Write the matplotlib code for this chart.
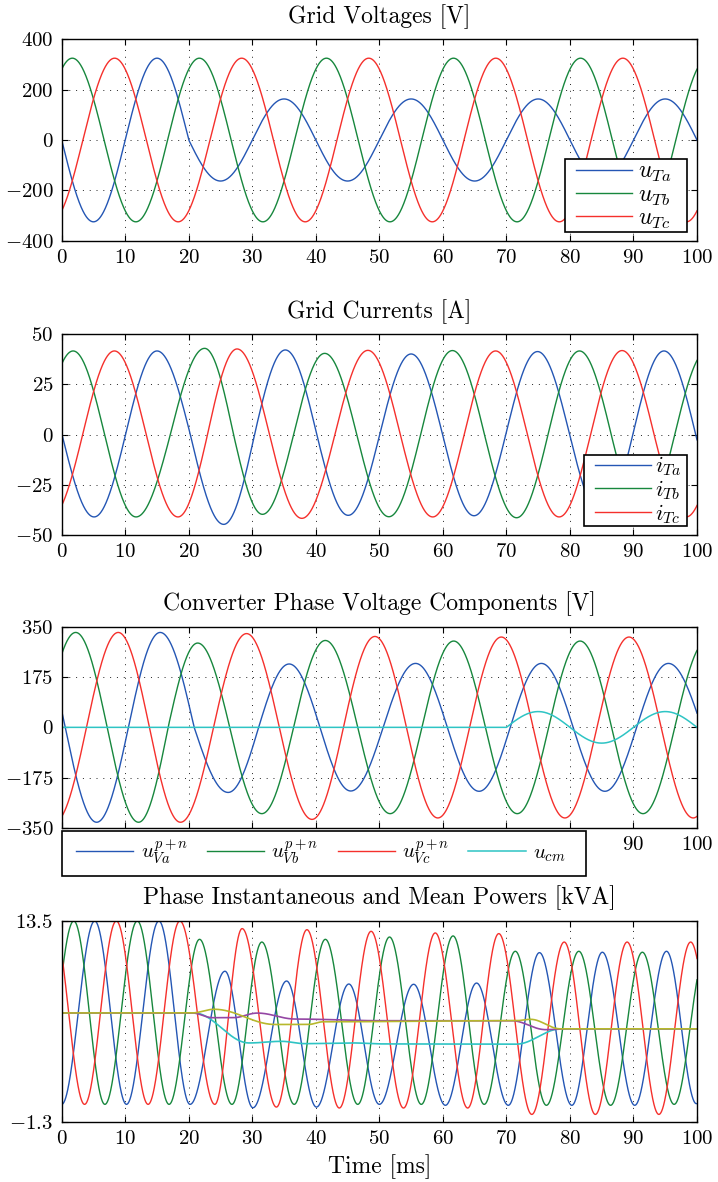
import numpy as np
import matplotlib
matplotlib.use("Agg")
import matplotlib.pyplot as plt
from matplotlib.patches import Rectangle
from matplotlib.ticker import FuncFormatter

plt.rcParams.update({
    "font.family": "serif",
    "font.serif": ["cmr10"],
    "mathtext.fontset": "cm",
    "axes.formatter.use_mathtext": True,
    "axes.linewidth": 1.0,
})

# ---------------------------------------------------------------------------
# Waveform extrema (time in ms, value) for every signal
# ---------------------------------------------------------------------------
# Grid voltages [V]
uTa_t = [-5, 5, 15, 25, 35, 45, 55, 65, 75, 85, 95, 105]
uTa_v = [325, -325, 325, -163, 163, -163, 163, -163, 163, -163, 163, -163]
uTb_t = [-8.33, 1.67, 11.67, 21.67, 31.67, 41.67, 51.67, 61.67, 71.67, 81.67, 91.67, 101.67]
uTb_v = [-325, 325, -325, 325, -325, 325, -325, 325, -325, 325, -325, 325]
uTc_t = [-1.67, 8.33, 18.33, 28.33, 38.33, 48.33, 58.33, 68.33, 78.33, 88.33, 98.33, 108.33]
uTc_v = [-325, 325, -325, 325, -325, 325, -325, 325, -325, 325, -325, 325]

# Grid currents [A]
iTa_t = [-5, 5.1, 15.0, 25.5, 35.2, 45.1, 55.0, 64.9, 74.9, 85.0, 94.8, 104.8]
iTa_v = [41, -41.0, 41.7, -44.7, 42.2, -40.2, 40.2, -40.4, 41.4, -40.8, 41.7, -41]
iTb_t = [-8.2, 1.8, 11.7, 22.5, 31.6, 41.4, 51.5, 61.5, 71.6, 81.5, 91.5, 101.5]
iTb_v = [-41, 41.7, -41.0, 43.0, -39.7, 40.5, -40.9, 41.9, -41.4, 41.7, -41.2, 41.5]
iTc_t = [-1.7, 8.3, 18.3, 27.6, 37.8, 48.2, 58.4, 68.3, 78.3, 88.2, 98.3, 108.3]
iTc_v = [-41, 41.7, -41.0, 42.7, -41.7, 42.0, -41.0, 41.7, -41.0, 41.9, -41.0, 41]

# Converter phase voltage components [V]
uVa_t = [-4.4, 5.5, 15.5, 26.2, 35.8, 45.5, 55.7, 65.7, 75.5, 85.5, 95.5, 106.0]
uVa_v = [331, -331, 331, -227, 221, -222, 223, -223, 223, -223, 223, -223]
uVb_t = [-7.8, 2.2, 12.1, 21.4, 31.5, 41.5, 51.7, 61.7, 71.7, 81.6, 91.5, 101.5]
uVb_v = [-331, 331, -331, 294, -301, 303, -301, 301, -301, 301, -301, 301]
uVc_t = [-1.1, 8.9, 18.7, 29.1, 39.4, 49.3, 59.2, 69.2, 79.2, 89.3, 99.4, 109.4]
uVc_v = [-331, 331, -331, 327, -321, 317, -316, 315, -316, 315, -316, 315]
ucm_on = 70.0
ucm_t = [65, 75, 85, 95, 105]
ucm_v = [-55, 55, -55, 55, -55]

# Phase instantaneous powers [kVA]
pa_t = [-5, 0, 5.2, 10.2, 15.3, 20.2, 25.7, 30.1, 35.4, 40.1, 45.2, 50.0,
        55.4, 60.4, 65.3, 70.3, 75.2, 80.3, 85.1, 90.2, 95.2, 99.9, 105]
pa_v = [13.5, 0, 13.5, 0, 13.5, 0, 9.8, -0.25, 9.08, -0.2, 8.86, 0,
        8.84, -0.07, 8.93, -0.07, 11.17, -0.07, 11.2, -0.07, 11.27, 0.05, 11.3]
pb_t = [-3.2, 1.9, 6.8, 11.9, 16.9, 21.7, 26.8, 31.5, 36.6, 41.5, 46.6,
        51.6, 56.6, 61.6, 66.5, 71.4, 76.3, 81.4, 86.4, 91.4, 96.4, 101.4]
pb_v = [0, 13.5, 0, 13.5, 0, 12.15, 0, 11.95, 0, 12.15, 0,
        12.32, 0, 12.4, 0, 11.27, -0.07, 11.27, -0.07, 11.2, 0, 11.2]
pc_t = [-1.4, 3.6, 8.6, 13.6, 18.6, 24.1, 28.4, 33.8, 38.6, 43.7, 48.7,
        53.8, 58.8, 63.9, 68.8, 74.0, 79.1, 84.0, 89.0, 94.0, 99.0, 104.0]
pc_v = [13.5, 0, 13.5, 0, 13.5, 0, 12.94, -0.2, 12.86, -0.27, 12.74,
        -0.27, 12.62, -0.27, 12.57, -0.74, 11.95, -0.74, 11.95, -0.74, 11.95, -0.74]

# Phase mean powers [kVA]
pa_mean_t = [0, 20.8, 29.5, 34.6, 38.3, 46.0, 50.0, 71.5, 78.6, 100]
pa_mean_v = [6.73, 6.73, 4.52, 4.64, 4.47, 4.52, 4.45, 4.43, 5.56, 5.56]
pb_mean_t = [0, 20.5, 24.0, 33.6, 38.8, 41.2, 71.5, 73.8, 78.5, 100]
pb_mean_v = [6.73, 6.73, 7.0, 5.88, 5.88, 6.08, 6.16, 6.26, 5.56, 5.56]
pc_mean_t = [0, 20.5, 23.8, 27.0, 30.8, 36.8, 50, 70.8, 76.2, 79.5, 100]
pc_mean_v = [6.73, 6.73, 6.38, 6.38, 6.72, 6.28, 6.16, 6.16, 5.5, 5.56, 5.56]

x_ticks = [0, 10, 20, 30, 40, 50, 60, 70, 80, 90, 100]

C_BLUE = "#2456b4"
C_GREEN = "#17873d"
C_RED = "#f5302c"
C_CYAN = "#2ec4c4"
C_PURPLE = "#9446a4"
C_OLIVE = "#b7b82c"


def wave(t, kt, kv, center=None):
    """Smooth curve through extrema: cosine arcs between neighbouring knots.
    With a center value the arc passes through it half way (AC signals)."""
    kt = np.asarray(kt, float)
    kv = np.asarray(kv, float)
    idx = np.clip(np.searchsorted(kt, t, side="right") - 1, 0, len(kt) - 2)
    t0, t1 = kt[idx], kt[idx + 1]
    v0, v1 = kv[idx], kv[idx + 1]
    s = np.clip((t - t0) / (t1 - t0), 0, 1)
    c = np.cos(np.pi * s)
    if center is None:
        return 0.5 * (v0 + v1) + 0.5 * (v0 - v1) * c
    return np.where(s < 0.5, center + (v0 - center) * c, center - (v1 - center) * c)


t = np.linspace(0, 100, 4001)

fig = plt.figure(figsize=(7.18, 11.82), dpi=100)
H = 1182.0
left, width = 61.7 / 718, 635.3 / 718


def make_axes(top_px, bottom_px):
    return fig.add_axes([left, 1 - bottom_px / H, width, (bottom_px - top_px) / H])


fmt = FuncFormatter(lambda v, p: f"${v:g}$")


def style(ax, yticks, ylim, title, hgrid=True):
    ax.set_xlim(0, 100)
    ax.set_ylim(*ylim)
    ax.set_xticks(x_ticks)
    ax.set_yticks(yticks)
    ax.xaxis.set_major_formatter(fmt)
    ax.yaxis.set_major_formatter(fmt)
    ax.tick_params(direction="in", length=4, width=0.8, top=True, right=True,
                   labelsize=15, pad=6)
    ax.grid(True, axis="x", color="#222222", linewidth=0.7, linestyle=(0, (1, 6)))
    if hgrid:
        ax.grid(True, axis="y", color="#222222", linewidth=0.7, linestyle=(0, (1, 6)))
    ax.set_title(title, fontsize=17, pad=12)


def boxed_legend(ax, frame, anchor, **kw):
    """Legend entries without their own frame, on a white box given in axes units."""
    x0, y0, x1, y1 = frame
    ax.add_patch(Rectangle((x0, y0), x1 - x0, y1 - y0, transform=ax.transAxes,
                           facecolor="white", edgecolor="black", linewidth=1.2,
                           clip_on=False, zorder=4))
    lg = ax.legend(loc="center left", bbox_to_anchor=anchor, frameon=False,
                   borderpad=0, borderaxespad=0, **kw)
    lg.set_zorder(5)
    return lg


lw = 1.0

# Grid voltages
ax1 = make_axes(39.3, 240.7)
ax1.plot(t, wave(t, uTa_t, uTa_v, 0), color=C_BLUE, lw=lw, label=r"$u_{Ta}$")
ax1.plot(t, wave(t, uTb_t, uTb_v, 0), color=C_GREEN, lw=lw, label=r"$u_{Tb}$")
ax1.plot(t, wave(t, uTc_t, uTc_v, 0), color=C_RED, lw=lw, label=r"$u_{Tc}$")
style(ax1, [-400, -200, 0, 200, 400], (-400, 400), "Grid Voltages [V]")
boxed_legend(ax1, (0.792, 0.045, 0.984, 0.404), (0.8096, 0.222), fontsize=17,
             handlelength=2.37, handletextpad=0.25, labelspacing=0.0)

# Grid currents
ax2 = make_axes(334.3, 535.0)
ax2.plot(t, wave(t, iTa_t, iTa_v, 0), color=C_BLUE, lw=lw, label=r"$i_{Ta}$")
ax2.plot(t, wave(t, iTb_t, iTb_v, 0), color=C_GREEN, lw=lw, label=r"$i_{Tb}$")
ax2.plot(t, wave(t, iTc_t, iTc_v, 0), color=C_RED, lw=lw, label=r"$i_{Tc}$")
style(ax2, [-50, -25, 0, 25, 50], (-50, 50), "Grid Currents [A]")
boxed_legend(ax2, (0.8226, 0.046, 0.984, 0.399), (0.8395, 0.224), fontsize=16,
             handlelength=2.52, handletextpad=0.2, labelspacing=0.0)

# Converter phase voltage components
ax3 = make_axes(627.0, 827.7)
ucm = np.where(t < ucm_on, 0.0, wave(t, ucm_t, ucm_v, 0))
ax3.plot(t, wave(t, uVa_t, uVa_v, 0), color=C_BLUE, lw=lw, label=r"$u_{Va}^{p+n}$")
ax3.plot(t, wave(t, uVb_t, uVb_v, 0), color=C_GREEN, lw=lw, label=r"$u_{Vb}^{p+n}$")
ax3.plot(t, wave(t, uVc_t, uVc_v, 0), color=C_RED, lw=lw, label=r"$u_{Vc}^{p+n}$")
ax3.plot(t, ucm, color=C_CYAN, lw=1.1, label=r"$u_{cm}$")
style(ax3, [-350, -175, 0, 175, 350], (-350, 350),
      "Converter Phase Voltage Components [V]")
# the legend box sits over the time labels up to 80 ms; only 90 and 100 stay visible
ax3.xaxis.set_major_formatter(FuncFormatter(lambda v, p: f"${v:g}$" if v > 85 else ""))
boxed_legend(ax3, (0.0, -0.2407, 0.825, -0.015), (0.0225, -0.1196), ncol=4,
             fontsize=15, handlelength=2.76, handletextpad=0.34, columnspacing=0.9)

# Phase instantaneous and mean powers
ax4 = make_axes(921.0, 1122.0)
ax4.plot(t, wave(t, pa_t, pa_v), color=C_BLUE, lw=lw)
ax4.plot(t, wave(t, pb_t, pb_v), color=C_GREEN, lw=lw)
ax4.plot(t, wave(t, pc_t, pc_v), color=C_RED, lw=lw)
ax4.plot(t, wave(t, pa_mean_t, pa_mean_v), color=C_CYAN, lw=1.2)
ax4.plot(t, wave(t, pc_mean_t, pc_mean_v), color=C_PURPLE, lw=1.2)
ax4.plot(t, wave(t, pb_mean_t, pb_mean_v), color=C_OLIVE, lw=1.2)
style(ax4, [-1.3, 13.5], (-1.3, 13.5), "Phase Instantaneous and Mean Powers [kVA]",
      hgrid=False)
ax4.set_xlabel("Time [ms]", fontsize=17, labelpad=4)

fig.savefig("out.png", dpi=100)
